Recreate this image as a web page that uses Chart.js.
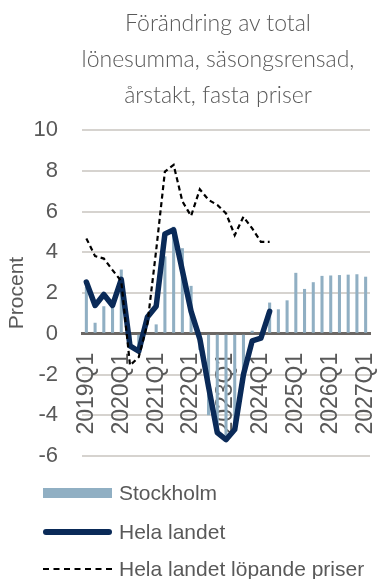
<!DOCTYPE html>
<html lang="sv">
<head>
<meta charset="utf-8">
<title>Förändring av total lönesumma</title>
<script src="https://cdn.jsdelivr.net/npm/chart.js@4/dist/chart.umd.min.js"></script>
<style>
  html, body { margin: 0; padding: 0; background: #fff; }
  #wrap { position: relative; width: 377px; height: 579px; overflow: hidden; }
  #chart { position: absolute; left: 0; top: 0; }
  #title {
    position: absolute; left: 59px; top: 4px; width: 318px;
    text-align: center; font-family: Lato, "Open Sans", sans-serif; font-weight: 300;
    font-size: 23px; line-height: 36px; color: #595959;
  }
  .lg { position: absolute; left: 0; height: 30px; width: 377px;
        font-family: "Liberation Sans", Arial, sans-serif; font-size: 21px; color: #595959; }
  .lg span.t { position: absolute; left: 119px; top: 50%; transform: translateY(-50%); white-space: nowrap; }
  .lg span.s { position: absolute; left: 43px; width: 69px; }
</style>
</head>
<body>
<div id="wrap">
  <canvas id="chart" width="377" height="579"></canvas>
  <div id="title">Förändring av total<br>lönesumma, säsongsrensad,<br>årstakt, fasta priser</div>
  <div id="legend"></div>
</div>
<script>
// Quarters on the category axis
const quarters = [
  '2019Q1','2019Q2','2019Q3','2019Q4',
  '2020Q1','2020Q2','2020Q3','2020Q4',
  '2021Q1','2021Q2','2021Q3','2021Q4',
  '2022Q1','2022Q2','2022Q3','2022Q4',
  '2023Q1','2023Q2','2023Q3','2023Q4',
  '2024Q1','2024Q2','2024Q3','2024Q4',
  '2025Q1','2025Q2','2025Q3','2025Q4',
  '2026Q1','2026Q2','2026Q3','2026Q4',
  '2027Q1'
];

// Stockholm, fixed prices (bars), percent
const stockholm = [
  2.3, 0.54, 1.35, 1.35, 3.15, -0.4, -0.9, 0.05,
  0.46, 3.8, 5.25, 4.2, 2.35, -0.8, -4.0, -4.8,
  -5.0, -4.4, -2.0, 0.15, 0.0, 1.53, 1.2, 1.64,
  2.99, 2.2, 2.53, 2.84, 2.86, 2.88, 2.9, 2.92,
  2.8
];

// Whole country, fixed prices (solid line), percent
const helaLandet = [
  2.54, 1.39, 1.93, 1.39, 2.67, -0.6, -0.86, 0.82,
  1.35, 4.9, 5.1, 3.1, 1.1, -0.25, -2.6, -4.85,
  -5.2, -4.7, -2.0, -0.35, -0.22, 1.1
];

// Whole country, current prices (dashed line), percent
const helaLandetLopande = [
  4.68, 3.81, 3.69, 3.12, 2.58, -1.55, -1.15, 0.5,
  4.1, 7.96, 8.29, 6.5, 5.78, 7.09, 6.57, 6.32,
  5.91, 4.84, 5.74, 5.17, 4.51, 4.51
];

// Y axis ticks
const yTicks = [10, 8, 6, 4, 2, 0, -2, -4, -6];

const seriesNames = ['Stockholm', 'Hela landet', 'Hela landet löpande priser'];

const COL_BAR = '#90afc3';
const COL_LINE = '#0a2a58';
const COL_TEXT = '#595959';
const FONT_FAMILY = '"Liberation Sans", Arial, sans-serif';

const chart = new Chart(document.getElementById('chart'), {
  data: {
    labels: quarters,
    datasets: [
      {
        type: 'line', label: seriesNames[2], data: helaLandetLopande,
        borderColor: '#000', borderWidth: 2.2, borderDash: [5, 3.5],
        pointRadius: 0, tension: 0, fill: false, order: 0
      },
      {
        type: 'line', label: seriesNames[1], data: helaLandet,
        borderColor: COL_LINE, borderWidth: 5.5, borderJoinStyle: 'round', borderCapStyle: 'round',
        pointRadius: 0, tension: 0, fill: false, order: 1
      },
      {
        type: 'bar', label: seriesNames[0], data: stockholm,
        backgroundColor: COL_BAR, borderWidth: 0,
        barPercentage: 0.7, categoryPercentage: 0.5, order: 2
      }
    ]
  },
  options: {
    responsive: false,
    animation: false,
    layout: { padding: { left: 5, right: 7, top: 130, bottom: 123 } },
    plugins: { legend: { display: false }, title: { display: false }, tooltip: { enabled: false } },
    scales: {
      x: {
        type: 'category',
        position: { y: 0 },
        afterFit: function (s) {
          s.paddingLeft = 0; s.paddingRight = 0; s.paddingTop = 0; s.paddingBottom = 0;
        },
        grid: { display: false, drawTicks: false },
        border: { display: true, color: '#6b6764', width: 3 },
        ticks: {
          autoSkip: false, maxRotation: 90, minRotation: 90, padding: 19,
          color: COL_TEXT, font: { family: FONT_FAMILY, size: 23 },
          callback: function (v, i) { return i % 4 === 0 ? quarters[i] : ''; }
        }
      },
      y: {
        min: -6, max: 10,
        afterFit: function (s) { s.width = 77; s.paddingTop = 0; s.paddingBottom = 0; },
        afterBuildTicks: function (s) { s.ticks = yTicks.map(v => ({ value: v })); },
        grid: {
          drawTicks: false, lineWidth: 2,
          color: ctx => (ctx.tick && ctx.tick.value === 0) ? 'rgba(0,0,0,0)' : '#d6d3cf'
        },
        border: { display: false },
        ticks: { padding: 24, color: COL_TEXT, font: { family: FONT_FAMILY, size: 22 } },
        title: {
          display: true, text: 'Procent', color: COL_TEXT,
          font: { family: FONT_FAMILY, size: 21 }, padding: 0
        }
      }
    }
  }
});

// Legend rows below the plot
const legend = document.getElementById('legend');
const rows = [
  { name: seriesNames[0], y: 493, swatch: 'top:10px;height:10px;background:' + COL_BAR + ';' },
  { name: seriesNames[1], y: 532, swatch: 'top:12px;height:6px;background:' + COL_LINE + ';border-radius:3px;' },
  { name: seriesNames[2], y: 569, swatch: 'top:14px;height:0;border-top:2.2px dashed #000;' }
];
rows.forEach(r => {
  const d = document.createElement('div');
  d.className = 'lg';
  d.style.top = (r.y - 15) + 'px';
  d.innerHTML = '<span class="s" style="' + r.swatch + '"></span><span class="t">' + r.name + '</span>';
  legend.appendChild(d);
});
</script>
</body>
</html>
